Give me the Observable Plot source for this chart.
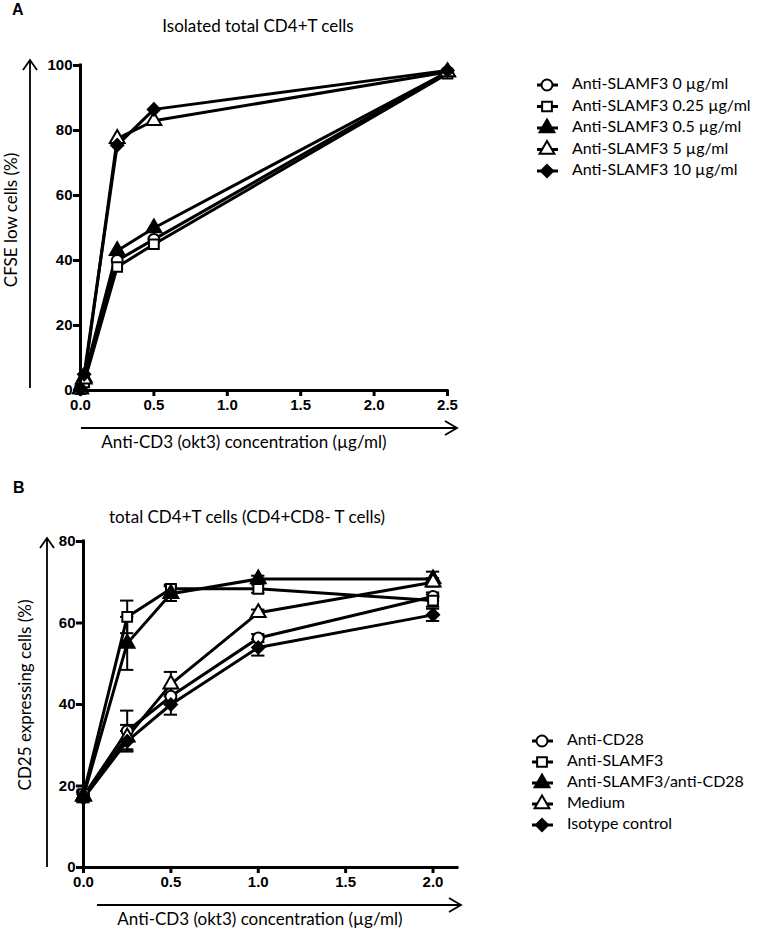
<!DOCTYPE html>
<html><head><meta charset="utf-8">
<script src="https://cdn.jsdelivr.net/npm/d3@7"></script>
<script src="https://cdn.jsdelivr.net/npm/@observablehq/plot@0.6"></script>
<style>
body{margin:0;background:#fff}
#root{position:relative;width:762px;height:933px;background:#fff;overflow:hidden}
#root > svg{position:absolute}
</style></head><body><div id="root"></div>
<script>
// ---------- Panel A data ----------
const concA = [0, 0.025, 0.25, 0.5, 2.5];
const seriesA = ["Anti-SLAMF3 0 µg/ml","Anti-SLAMF3 0.25 µg/ml","Anti-SLAMF3 0.5 µg/ml","Anti-SLAMF3 5 µg/ml","Anti-SLAMF3 10 µg/ml"];
const a_0   = [0.5, 3.0, 40.0, 46.5, 98.0];
const a_025 = [0.5, 2.5, 38.0, 45.0, 97.5];
const a_05  = [0.5, 4.0, 43.0, 50.0, 98.0];
const a_5   = [0.5, 3.5, 77.5, 83.0, 98.0];
const a_10  = [0.5, 5.0, 75.5, 86.5, 98.5];
const valuesA = [a_0, a_025, a_05, a_5, a_10];
const symbolsA = ["circle","square","triangle","triangle","diamond2"];
const fillsA = ["white","white","black","white","black"];
const ticksXA = [0, 0.5, 1.0, 1.5, 2.0, 2.5];
const ticksYA = [0, 20, 40, 60, 80, 100];

// ---------- Panel B data ----------
const concB = [0, 0.25, 0.5, 1.0, 2.0];
const seriesB = ["Anti-CD28","Anti-SLAMF3","Anti-SLAMF3/anti-CD28","Medium","Isotype control"];
const b_cd28     = [17.5, 33.5, 42.0, 56.3, 66.5];
const b_slamf3   = [18.0, 61.5, 68.4, 68.4, 65.5];
const b_combo    = [17.5, 55.0, 67.2, 70.8, 70.8];
const b_medium   = [17.5, 32.0, 45.0, 62.5, 70.0];
const b_isotype  = [17.0, 31.0, 40.0, 54.0, 62.0];
const e_cd28     = [1.0, 5.0, 2.0, 1.0, 1.0];
const e_slamf3   = [1.0, 4.0, 1.0, 1.0, 1.5];
const e_combo    = [1.0, 6.5, 1.8, 0.8, 1.8];
const e_medium   = [1.0, 3.0, 3.0, 0.8, 1.0];
const e_isotype  = [1.0, 2.5, 2.5, 2.0, 1.5];
const valuesB = [b_cd28, b_slamf3, b_combo, b_medium, b_isotype];
const errorsB = [e_cd28, e_slamf3, e_combo, e_medium, e_isotype];
const symbolsB = ["circle","square","triangle","triangle","diamond2"];
const fillsB = ["white","white","black","white","black"];
const ticksXB = [0, 0.5, 1.0, 1.5, 2.0];
const ticksYB = [0, 20, 40, 60, 80];

const rowsA = seriesA.flatMap((s, i) => concA.map((x, j) => ({s, x, y: valuesA[i][j], f: fillsA[i]})));
const rowsB = seriesB.flatMap((s, i) => concB.map((x, j) => ({s, x, y: valuesB[i][j], e: errorsB[i][j], f: fillsB[i]})));

const tickFont = {fontSize: 15, fontWeight: "bold", fontFamily: "Liberation Sans, Arial, sans-serif"};
const root = document.getElementById("root");

function panel({rows, series, symbols, xDomain, yDomain, xTicks, yTicks, width, height, margins, errors, capHalf}) {
  const marks = [
    Plot.line(rows, {x: "x", y: "y", z: "s", stroke: "black", strokeWidth: 3, strokeLinejoin: "round"})
  ];
  if (errors) {
    marks.push(
      Plot.ruleX(rows, {x: "x", y1: d => d.y - d.e, y2: d => d.y + d.e, stroke: "black", strokeWidth: 2}),
      Plot.ruleY(rows, {y: d => d.y + d.e, x1: d => d.x - capHalf, x2: d => d.x + capHalf, stroke: "black", strokeWidth: 2}),
      Plot.ruleY(rows, {y: d => d.y - d.e, x1: d => d.x - capHalf, x2: d => d.x + capHalf, stroke: "black", strokeWidth: 2})
    );
  }
  marks.push(
    Plot.dot(rows, {x: "x", y: "y", symbol: "s", fill: "f", stroke: "black", strokeWidth: 2, r: 5.5}),
    Plot.ruleX([xDomain[0]], {stroke: "black", strokeWidth: 3, strokeLinecap: "square"}),
    Plot.ruleY([yDomain[0]], {stroke: "black", strokeWidth: 3, strokeLinecap: "square"}),
    Plot.axisX({ticks: xTicks, tickFormat: d3.format(".1f"), tickSize: 6, tickPadding: 3, strokeWidth: 3, label: null, ...tickFont}),
    Plot.axisY({ticks: yTicks, tickFormat: d3.format("d"), tickSize: 7, tickPadding: 1, strokeWidth: 3, label: null, ...tickFont})
  );
  return Plot.plot({
    width, height, ...margins,
    x: {domain: xDomain}, y: {domain: yDomain},
    symbol: {domain: series, range: symbols},
    color: {type: "identity"},
    style: {background: "transparent", overflow: "visible"},
    marks
  });
}

const plotA = panel({rows: rowsA, series: seriesA, symbols: symbolsA, xDomain: [0, 2.5], yDomain: [0, 100],
  xTicks: ticksXA, yTicks: ticksYA, width: 470, height: 420,
  margins: {marginLeft: 80, marginRight: 23, marginTop: 65, marginBottom: 30}});
plotA.style.left = "0px"; plotA.style.top = "0px";
root.appendChild(plotA);

const plotB = panel({rows: rowsB, series: seriesB, symbols: symbolsB, xDomain: [0, 2.14], yDomain: [0, 80],
  xTicks: ticksXB, yTicks: ticksYB, width: 470, height: 420,
  margins: {marginLeft: 83, marginRight: 13, marginTop: 61, marginBottom: 33}, errors: true, capHalf: 0.038});
plotB.style.left = "0px"; plotB.style.top = "480px";
root.appendChild(plotB);

// ---------- Overlay: labels, arrows, legends ----------
const ov = d3.select(root).append("svg").attr("width", 762).attr("height", 933)
  .style("left", "0px").style("top", "0px").style("pointer-events", "none");
const labelFont = "Lato, 'Open Sans', sans-serif";

function txt(x, y, s, opt = {}) {
  const t = ov.append("text").attr("x", x).attr("y", y).text(s)
    .attr("font-family", opt.family || labelFont).attr("font-size", opt.size || 17)
    .attr("font-weight", opt.weight || "normal").attr("text-anchor", opt.anchor || "start")
    .attr("dominant-baseline", "middle").attr("fill", "black");
  if (opt.rotate) t.attr("transform", `rotate(-90 ${x} ${y})`);
  return t;
}
function arrowUp(x, yTop, yBottom) {
  ov.append("path").attr("d", `M${x},${yBottom}L${x},${yTop}M${x-7},${yTop+10}L${x},${yTop}L${x+7},${yTop+10}`)
    .attr("stroke", "black").attr("stroke-width", 1.8).attr("fill", "none");
}
function arrowRight(y, xLeft, xRight) {
  ov.append("path").attr("d", `M${xLeft},${y}L${xRight},${y}M${xRight-12},${y-7}L${xRight},${y}L${xRight-12},${y+7}`)
    .attr("stroke", "black").attr("stroke-width", 1.8).attr("fill", "none");
}

// Panel A
txt(12, 11, "A", {weight: "bold", size: 16, family: "Liberation Sans, Arial, sans-serif"});
txt(258, 28, "Isolated total CD4+T cells", {anchor: "middle"});
arrowUp(30, 60, 388);
txt(13, 220, "CFSE low cells (%)", {anchor: "middle", rotate: true});
arrowRight(428, 81, 457);
txt(244, 444, "Anti-CD3 (okt3) concentration (µg/ml)", {anchor: "middle"});

// Panel B
txt(13, 489, "B", {weight: "bold", size: 16, family: "Liberation Sans, Arial, sans-serif"});
txt(247, 519, "total CD4+T cells (CD4+CD8- T cells)", {anchor: "middle"});
arrowUp(47, 538, 867);
txt(27, 695, "CD25 expressing cells (%)", {anchor: "middle", rotate: true});
arrowRight(905, 97, 461);
txt(260, 921, "Anti-CD3 (okt3) concentration (µg/ml)", {anchor: "middle"});

// Legends
function legend(series, symbols, fills, x0, y0, dy) {
  series.forEach((s, i) => {
    const y = y0 + i * dy;
    ov.append("line").attr("x1", x0 - 10).attr("x2", x0 + 11).attr("y1", y).attr("y2", y)
      .attr("stroke", "black").attr("stroke-width", 3);
    const sym = {circle: d3.symbolCircle, square: d3.symbolSquare, triangle: d3.symbolTriangle, diamond2: d3.symbolDiamond2}[symbols[i]];
    ov.append("path").attr("d", d3.symbol(sym, Math.PI * 5.5 * 5.5)())
      .attr("transform", `translate(${x0},${y})`).attr("fill", fills[i])
      .attr("stroke", "black").attr("stroke-width", 2);
    txt(x0 + 25, y, s, {size: 16});
  });
}
legend(seriesA, symbolsA, fillsA, 547, 85, 21.5);
legend(seriesB, symbolsB, fillsB, 542, 741, 21);
</script></body></html>
